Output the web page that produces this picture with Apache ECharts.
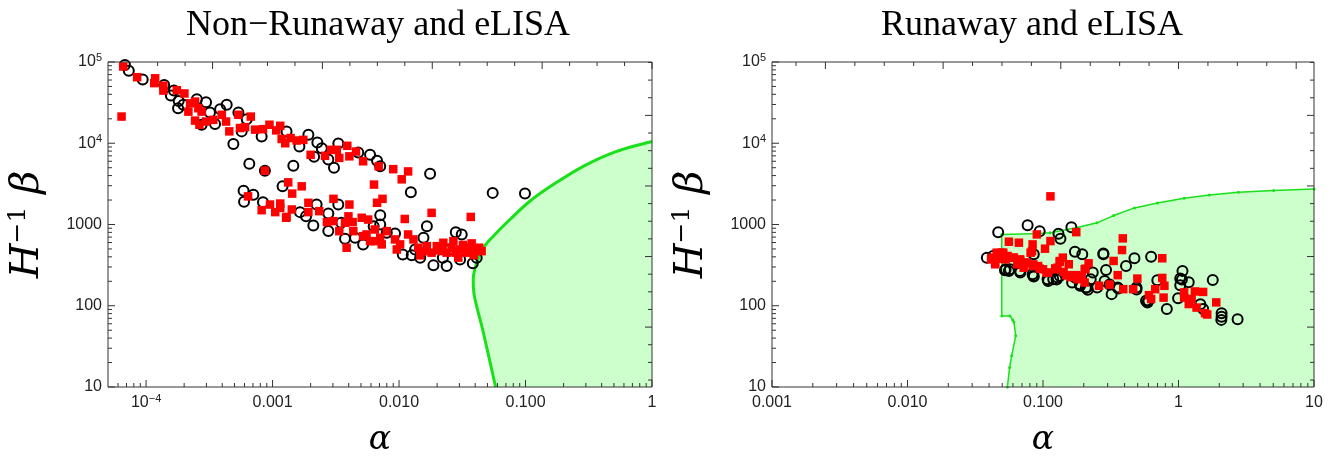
<!DOCTYPE html>
<html><head><meta charset="utf-8">
<script src="https://cdn.jsdelivr.net/npm/echarts@6/dist/echarts.min.js"></script>
<style>html,body{margin:0;padding:0;background:#fff}#c{width:1334px;height:462px}</style>
</head><body><div id="c"></div>
<script>
// ---------- data (alpha, H^-1 beta) ----------
const leftCircles = [
[6.8e-5,9.2e4],[7.3e-5,7.8e4],[9.4e-5,6.1e4],[1.39e-4,5.2e4],[1.66e-4,4.45e4],[1.57e-4,3.86e4],[1.81e-4,3.32e4],[1.79e-4,2.7e4],[1.97e-4,2.97e4],[2.52e-4,3.48e4],[2.98e-4,3.2e4],[3.2e-4,2.39e4],[3.85e-4,2.63e4],[4.34e-4,2.97e4],[5.37e-4,2.39e4],[3.51e-4,1.73e4],[2.75e-4,1.69e4],[4.9e-4,9.8e3],[6.25e-4,1.98e4],[5.7e-4,1.4e4],[8.2e-4,1.21e4],[1.29e-3,1.4e4],[1.63e-3,9.1e3],[1.92e-3,1.27e4],[2.26e-3,1.02e4],[2.45e-3,8.7e3],[2.13e-3,6.8e3],[2.76e-3,6.3e3],[3.06e-3,5.0e3],[3.31e-3,9.9e3],[4.76e-3,7.7e3],[5.9e-3,7.2e3],[6.7e-3,6.1e3],[7.1e-3,5.2e3],[1.76e-2,4.2e3],[1.24e-2,2.49e3],[5.5e-2,2.45e3],[9.9e-2,2.4e3],
[6.55e-4,5.6e3],[1.46e-3,5.3e3],[1.2e-3,2.95e3],[8.7e-4,4.6e3],[5.9e-4,2.6e3],[5.95e-4,1.9e3],[7.05e-4,2.33e3],[8.4e-4,1.88e3],[1.65e-3,1.42e3],[1.84e-3,1.26e3],[2.1e-3,973],[2.23e-3,1.76e3],[2.76e-3,1.37e3],[2.76e-3,830],[3.31e-3,1.76e3],[3.74e-3,668],[4.49e-3,687],[5.2e-3,569],[6.3e-3,953],[7.1e-3,1.3e3],[3.49e-3,1.05e3],[8.0e-3,790],[9.3e-3,776],[1.07e-2,428],[1.26e-2,417],[1.47e-2,391],[1.66e-2,953],[1.87e-2,314],[2.38e-2,308],[2.22e-2,391],[2.81e-2,805],[3.13e-2,754],[3.04e-2,372],[3.83e-2,333],[4.11e-2,391],[1.56e-2,687],[7.1e-3,1000],[1.34e-2,493],[2.53e-2,493]
];
const leftSquares = [
[6.6e-5,8.8e4],[6.4e-5,2.13e4],[8.5e-5,6.5e4],[1.18e-4,6.3e4],[1.16e-4,5.5e4],[1.37e-4,5.1e4],[1.37e-4,4.45e4],[1.75e-4,4.5e4],[2.01e-4,4.1e4],[2.23e-4,3.1e4],[2.44e-4,3.26e4],[2.59e-4,2.7e4],[2.75e-4,2.45e4],[2.16e-4,2.45e4],[2.44e-4,1.9e4],[2.64e-4,1.69e4],[2.98e-4,1.85e4],[3.4e-4,1.94e4],[3.97e-4,2.24e4],[4.29e-4,1.85e4],[4.55e-4,1.4e4],[5.37e-4,2.24e4],[5.53e-4,1.54e4],[6.06e-4,1.58e4],[6.73e-4,2.13e4],[7.28e-4,1.47e4],[8.4e-4,1.49e4],[9.45e-4,1.69e4],[1.07e-3,1.44e4],[1.15e-3,1.64e4],[1.18e-3,1.13e4],[1.26e-3,1.0e4],[1.39e-3,1.16e4],[1.55e-3,1.08e4],[1.75e-3,1.1e4],[2.0e-3,7.2e3],[2.6e-3,7.0e3],[2.9e-3,8.3e3],[3.22e-3,8.3e3],[3.37e-3,6.6e3],[3.9e-3,9.3e3],[4.05e-3,6.9e3],[4.57e-3,7.9e3],[5.2e-3,6.0e3],[6.9e-3,5.2e3],[9.0e-3,4.8e3],[1.18e-2,4.5e3],[1.05e-2,3.6e3],
[8.7e-4,4.6e3],[1.33e-3,3.3e3],[1.7e-3,2.95e3],[1.43e-3,2.4e3],[6.4e-4,2.22e3],[8.2e-4,1.5e3],[9.55e-4,1.76e3],[1.05e-3,1.42e3],[1.15e-3,1.81e3],[1.29e-3,1.24e3],[1.42e-3,1.53e3],[1.92e-3,1.85e3],[1.92e-3,1.42e3],[2.34e-3,1.46e3],[3.03e-3,2.07e3],[4.05e-3,1.76e3],[2.69e-3,1.07e3],[3.03e-3,1.1e3],[3.37e-3,828],[3.98e-3,1.26e3],[4.3e-3,1.07e3],[5.07e-3,1.21e3],[5.7e-3,1.15e3],[6.34e-3,3.1e3],[6.7e-3,1.85e3],[3.85e-3,518],[5.53e-3,754],[6.43e-3,624],[7.4e-3,2.07e3],[1.81e-2,1.39e3],[1.11e-2,1.17e3],[3.69e-2,1.24e3],[1.28e-3,1.21e3],[1.15e-3,1.6e3],[3.74e-3,1.05e3],[4.35e-3,828],[6.43e-3,868],[7.1e-3,687],[8.0e-3,828],[9.3e-3,655],[1.02e-2,569],[1.18e-2,754],[1.3e-2,655],[1.42e-2,518],[1.66e-2,542],[1.99e-2,542],[2.24e-2,596],[2.69e-2,624],[3.03e-2,493],[3.43e-2,450],[3.75e-2,585],[4.3e-2,518],[2.38e-2,450],[1.81e-2,450],[1.47e-2,417],[2.94e-2,391],[9.6e-3,493],[7.3e-3,569],[5.9e-3,624],[5.2e-3,718],
[2.0e-2,480],[2.6e-2,520],[3.2e-2,560],[3.5e-2,520],[4.0e-2,470],[2.2e-2,470],[1.6e-2,470],[2.8e-2,450],[3.9e-2,420],[4.5e-2,470]
];
const rightCircles = [
[0.0467,805],[0.077,982],[0.0945,828],[0.130,769],[0.1345,667],[0.162,927],[0.172,462],[0.195,430],[0.279,430],[0.473,384],[0.41,309],[0.628,402],[0.0855,430],[0.233,256],[0.225,212],[0.21,168],[0.251,168],[0.285,202],[0.321,139],[0.356,168],[0.49,168],[0.576,115],[0.59,110],[0.698,206],[0.82,91],[0.993,124],[1.07,268],[1.03,216],[1.03,179],[1.19,195],[1.79,208],[1.45,104],[1.52,91],[2.08,81],[2.08,73],[2.07,67],[2.73,68],[0.0428,409],[0.053,281],[0.056,268],[0.068,256],[0.0838,244],[0.0855,229],[0.108,212],[0.119,212],[0.128,222],[0.164,193],[0.188,176],[0.214,157],[0.31,183],[0.292,276],[0.279,441],[0.49,159],[0.36,163],[0.172,222],[0.187,184],[0.207,167],[0.133,232],[0.126,211],[0.109,201],[0.0848,232],[0.0676,267],[0.057,281],[0.0524,273],[0.0385,390],[0.0468,408],[1.06,211],[0.6,115]
];
const rightSquares = [
[0.1135,2220],[0.176,805],[0.090,755],[0.1135,625],[0.1035,504],[0.0838,569],[0.081,450],[0.0664,597],[0.056,614],[0.388,675],[0.383,485],[0.332,356],[0.759,384],[0.217,333],[0.140,391],[0.133,346],[0.155,324],[0.203,281],[0.356,238],[0.497,216],[0.759,220],[0.787,176],[0.310,182],[0.259,176],[0.391,160],[0.463,160],[0.673,160],[0.605,135],[0.628,121],[0.776,126],[1.10,146],[1.32,150],[1.52,148],[1.10,126],[1.25,121],[1.19,105],[1.36,95],[1.57,81],[1.63,78],[1.90,110],[0.176,238],[0.155,238],[0.180,212],[0.203,193],[0.142,261],[0.124,281],[0.106,256],[0.0945,286],[0.0838,309],[0.0753,340],[0.0678,366],[0.061,391],[0.0548,409],[0.0493,450],[0.046,391],[0.0414,372],[0.0444,324],[0.053,372],[0.0646,324],[0.072,294],
[0.083,470],[0.206,286],[0.193,232],[0.160,225],[0.148,237],[0.128,294],[0.133,355],[0.123,288],[0.109,255],[0.100,281],[0.092,308],[0.0848,323],[0.0758,339],[0.0677,372],[0.0604,390],[0.054,408],[0.0482,379],[0.0443,339],[0.0418,390],[0.0455,450],[0.0509,450]
];
// eLISA sensitivity region boundaries
const leftBoundary = [[0.058,10],[0.0464,46.9],[0.0394,132],[0.0386,211],[0.0411,339],[0.0464,518],[0.0556,718],[0.0753,1151],[0.108,1932],[0.1656,3097],[0.286,5200],[0.525,7930],[1.0,10500]];
const rightBoundary = [[0.0546,10],[0.0567,17.4],[0.0587,24.2],[0.0629,42.6],[0.061,63],[0.0597,67],[0.057,75],[0.0496,75],[0.0496,754],[0.093,776],[0.1127,791],[0.176,910],[0.25,1048],[0.332,1288],[0.473,1600],[0.70,1842],[1.10,2100],[1.69,2307],[2.77,2490],[5.04,2630],[10,2735]];

// ---------- axes ----------
const leftX = [5e-5, 1], rightX = [1e-3, 10], yR = [10, 1e5];
const leftXMajor = [1e-4, 1e-3, 1e-2, 0.1, 1];
const rightXMajor = [1e-3, 1e-2, 0.1, 1, 10];
const yMajor = [10, 100, 1000, 1e4, 1e5];
const xLabelsLeft = {'-4':'{b|10}{s|−4}','-3':'{b|0.001}','-2':'{b|0.010}','-1':'{b|0.100}','0':'{b|1}'};
const xLabelsRight = {'-3':'{b|0.001}','-2':'{b|0.010}','-1':'{b|0.100}','0':'{b|1}','1':'{b|10}'};
const yLabels = {'1':'{b|10}','2':'{b|100}','3':'{b|1000}','4':'{b|10}{s|4}','5':'{b|10}{s|5}'};

function logMinors(lo, hi) {
  const out = [];
  for (let e = Math.floor(Math.log10(lo)) ; e < Math.ceil(Math.log10(hi)); e++)
    for (let m = 2; m <= 9; m++) { const v = m * Math.pow(10, e); if (v > lo && v < hi) out.push(v); }
  return out;
}
function lnTicks(lo, hi) {
  const out = [];
  for (let n = Math.ceil(2 * Math.log(lo)); n <= Math.floor(2 * Math.log(hi)); n++) out.push([Math.exp(n / 2), n % 4 === 0]);
  return out;
}
const LABEL_RICH = {
  b: {fontFamily: 'Liberation Sans', fontSize: 16, color: '#222', lineHeight: 19},
  s: {fontFamily: 'Liberation Sans', fontSize: 11, color: '#222', lineHeight: 11, verticalAlign: 'top'}
};
function fmt(map) {
  return v => { const l = Math.log10(v); const r = Math.round(l); if (Math.abs(l - r) > 1e-6) return ''; return map[String(r)] || ''; };
}
function frameSeries(gi, xr, xMaj) {
  const xMin = logMinors(xr[0], xr[1]), yMin = logMinors(yR[0], yR[1]);
  const xTop = lnTicks(xr[0], xr[1]), yRight = lnTicks(yR[0], yR[1]);
  return {
    type: 'custom', xAxisIndex: gi, yAxisIndex: gi, silent: true, z: 20, clip: false,
    data: [[xr[0], yR[0]]],
    renderItem(params, api) {
      const ch = [];
      const add = (x1, y1, x2, y2) => ch.push({type: 'line', shape: {x1, y1, x2, y2}, style: {stroke: '#333', lineWidth: 1}});
      const bl = api.coord([xr[0], yR[0]]), tr = api.coord([xr[1], yR[1]]);
      ch.push({type: 'rect', shape: {x: bl[0], y: tr[1], width: tr[0] - bl[0], height: bl[1] - tr[1]}, style: {fill: 'none', stroke: '#333', lineWidth: 1}});
      xMaj.forEach(v => { const p = api.coord([v, yR[0]]); add(p[0], p[1], p[0], p[1] - 7); });
      xMin.forEach(v => { const p = api.coord([v, yR[0]]); add(p[0], p[1], p[0], p[1] - 4); });
      yMajor.forEach(v => { const p = api.coord([xr[0], v]); add(p[0], p[1], p[0] + 7, p[1]); });
      yMin.forEach(v => { const p = api.coord([xr[0], v]); add(p[0], p[1], p[0] + 4, p[1]); });
      xTop.forEach(([v, big]) => { const p = api.coord([v, yR[1]]); add(p[0], p[1], p[0], p[1] + (big ? 7 : 4)); });
      yRight.forEach(([v, big]) => { const p = api.coord([xr[1], v]); add(p[0], p[1], p[0] - (big ? 7 : 4), p[1]); });
      return {type: 'group', children: ch};
    }
  };
}
function fillSeries(gi, xr, boundary) {
  return {
    type: 'custom', xAxisIndex: gi, yAxisIndex: gi, silent: true, z: 1, clip: true,
    data: [[xr[1], yR[0]]],
    renderItem(params, api) {
      const pts = boundary.map(p => api.coord(p));
      pts.push(api.coord([xr[1], yR[0]]));
      return {type: 'polygon', shape: {points: pts}, style: {fill: '#ccffcc', stroke: 'none'}};
    }
  };
}
function xAxisCfg(gi, xr, map) {
  return {type: 'log', gridIndex: gi, min: xr[0], max: xr[1], logBase: 10,
    name: 'α', nameLocation: 'middle', nameGap: 37,
    nameTextStyle: {fontFamily: 'DejaVu Serif', fontStyle: 'italic', fontSize: 33, color: '#000'},
    axisLine: {show: false}, axisTick: {show: false}, splitLine: {show: false}, minorTick: {show: false},
    axisLabel: {formatter: fmt(map), rich: LABEL_RICH, margin: 6, hideOverlap: false}};
}
function yAxisCfg(gi) {
  return {type: 'log', gridIndex: gi, min: yR[0], max: yR[1], logBase: 10,
    name: '{i|H}{s|−1}{i| β}', nameLocation: 'middle', nameRotate: 90, nameGap: 58,
    nameTextStyle: {rich: {
      i: {fontFamily: 'DejaVu Serif', fontStyle: 'italic', fontSize: 40, color: '#000', lineHeight: 44},
      s: {fontFamily: 'DejaVu Serif', fontSize: 25, color: '#000', lineHeight: 25, verticalAlign: 'top'}}},
    axisLine: {show: false}, axisTick: {show: false}, splitLine: {show: false}, minorTick: {show: false},
    axisLabel: {formatter: fmt(yLabels), rich: LABEL_RICH, margin: 6, hideOverlap: false}};
}
const circleStyle = {color: 'rgba(0,0,0,0)', borderColor: '#000', borderWidth: 2, opacity: 1};
const squareStyle = {color: '#ff0000', opacity: 1};
function scat(gi, data, kind) {
  return {type: 'scatter', xAxisIndex: gi, yAxisIndex: gi, data, z: kind === 'c' ? 5 : 6,
    symbol: kind === 'c' ? 'circle' : 'rect', symbolSize: kind === 'c' ? 10 : 8.5,
    itemStyle: kind === 'c' ? circleStyle : squareStyle, silent: true};
}
const chart = echarts.init(document.getElementById('c'), null, {renderer: 'canvas'});
chart.setOption({
  animation: false,
  backgroundColor: '#fff',
  grid: [
    {left: 108, top: 62, width: 544, height: 326},
    {left: 772, top: 62, width: 542, height: 326}
  ],
  xAxis: [xAxisCfg(0, leftX, xLabelsLeft), xAxisCfg(1, rightX, xLabelsRight)],
  yAxis: [yAxisCfg(0), yAxisCfg(1)],
  graphic: [
    {type: 'text', x: 378, y: 26, style: {text: 'Non−Runaway and eLISA', font: '36px "Liberation Serif"', fill: '#000', textAlign: 'center', textVerticalAlign: 'middle'}},
    {type: 'text', x: 1032, y: 26, style: {text: 'Runaway and eLISA', font: '36px "Liberation Serif"', fill: '#000', textAlign: 'center', textVerticalAlign: 'middle'}}
  ],
  series: [
    fillSeries(0, leftX, leftBoundary),
    {type: 'line', xAxisIndex: 0, yAxisIndex: 0, data: leftBoundary, showSymbol: false, smooth: 0.3, z: 3, silent: true,
      lineStyle: {color: '#1ae01a', width: 3}},
    scat(0, leftCircles, 'c'),
    scat(0, leftSquares, 's'),
    fillSeries(1, rightX, rightBoundary),
    {type: 'line', xAxisIndex: 1, yAxisIndex: 1, data: rightBoundary, showSymbol: true, symbol: 'circle', symbolSize: 3, z: 3, silent: true,
      itemStyle: {color: '#1ae01a'}, lineStyle: {color: '#1ae01a', width: 1.5}},
    scat(1, rightCircles, 'c'),
    scat(1, rightSquares, 's'),
    frameSeries(0, leftX, leftXMajor),
    frameSeries(1, rightX, rightXMajor)
  ]
});
</script></body></html>
